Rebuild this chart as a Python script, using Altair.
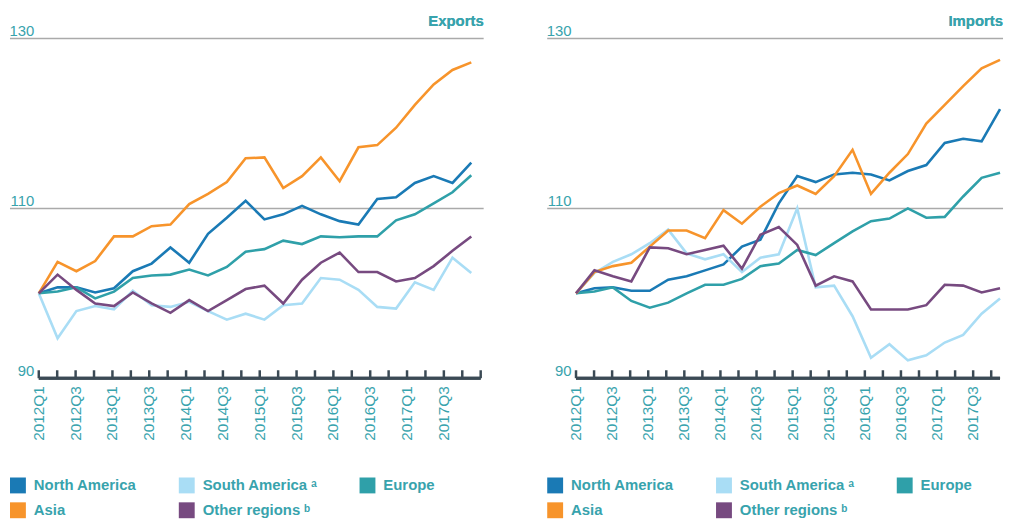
import altair as alt
import pandas as pd

FONT = "Liberation Sans"
TEAL = "#38a3ad"
DARK = "#3b4a55"
GRID = "#aaaaaa"

quarters = ["2012Q1", "2012Q2", "2012Q3", "2012Q4", "2013Q1", "2013Q2", "2013Q3", "2013Q4",
            "2014Q1", "2014Q2", "2014Q3", "2014Q4", "2015Q1", "2015Q2", "2015Q3", "2015Q4",
            "2016Q1", "2016Q2", "2016Q3", "2016Q4", "2017Q1", "2017Q2", "2017Q3", "2017Q4"]

regions = ["North America", "South America \u1d43", "Europe", "Asia", "Other regions \u1d47"]
colors = ["#1a7ab5", "#a9ddf5", "#2fa0a9", "#f7942b", "#774a80"]

# Exports (index, 2012Q1 = 100)
exp_na = [100, 100.7, 100.7, 100.1, 100.6, 102.6, 103.5, 105.4, 103.6, 107.0, 108.9, 110.9,
          108.7, 109.3, 110.3, 109.3, 108.5, 108.1, 111.1, 111.3, 113.0, 113.8, 113.0, 115.4]
exp_sa = [100, 94.7, 97.9, 98.5, 98.1, 100.3, 98.6, 98.4, 99.0, 97.9, 96.9, 97.6,
          96.9, 98.6, 98.8, 101.8, 101.6, 100.4, 98.4, 98.2, 101.3, 100.4, 104.2, 102.4]
exp_eu = [100, 100.2, 100.7, 99.4, 100.2, 101.8, 102.1, 102.2, 102.8, 102.1, 103.1, 104.9,
          105.2, 106.2, 105.8, 106.7, 106.6, 106.7, 106.7, 108.6, 109.3, 110.6, 111.9, 113.9]
exp_as = [100, 103.7, 102.6, 103.8, 106.7, 106.7, 107.9, 108.1, 110.5, 111.7, 113.1, 115.9,
          116.0, 112.4, 113.8, 116.0, 113.2, 117.2, 117.45, 119.5, 122.2, 124.6, 126.3, 127.2]
exp_ot = [100, 102.2, 100.4, 98.8, 98.5, 100.1, 98.8, 97.7, 99.2, 97.9, 99.2, 100.5,
          100.9, 98.8, 101.6, 103.6, 104.8, 102.5, 102.5, 101.4, 101.8, 103.2, 105.0, 106.7]

# Imports (index, 2012Q1 = 100)
imp_na = [100, 100.6, 100.7, 100.3, 100.3, 101.6, 102.0, 102.7, 103.4, 105.5, 106.3, 110.6,
          113.8, 113.1, 114.0, 114.2, 114.0, 113.3, 114.4, 115.1, 117.7, 118.2, 117.9, 121.7]
imp_sa = [100, 102.4, 103.7, 104.6, 105.9, 107.5, 104.7, 104.0, 104.6, 102.5, 104.2, 104.6,
          110.0, 100.7, 100.9, 97.3, 92.4, 94.0, 92.1, 92.7, 94.2, 95.1, 97.6, 99.4]
imp_eu = [100, 100.2, 100.7, 99.1, 98.3, 98.9, 100.0, 101.0, 101.0, 101.7, 103.2, 103.5,
          105.1, 104.5, 105.9, 107.3, 108.5, 108.8, 110.0, 108.9, 109.0, 111.4, 113.6, 114.2]
imp_as = [100, 102.5, 103.2, 103.6, 105.5, 107.4, 107.4, 106.5, 109.8, 108.2, 110.2, 111.8,
          112.7, 111.7, 113.8, 116.9, 111.7, 114.2, 116.4, 120.0, 122.2, 124.4, 126.5, 127.5]
imp_ot = [100, 102.7, 102.0, 101.4, 105.4, 105.3, 104.6, 105.1, 105.6, 102.9, 106.9, 107.8,
          105.7, 100.9, 102.0, 101.4, 98.1, 98.1, 98.1, 98.6, 101.0, 100.9, 100.1, 100.6]

y_ticks = [90, 110, 130]
grid_values = [110, 130]

H = 342
TICK_SPAN = 23.5  # axis extent in quarter units


def panel(title, series, width, xmax):
    rows = []
    for reg, vals in zip(regions, series):
        for i, v in enumerate(vals):
            rows.append({"idx": i, "value": v, "region": reg, "quarter": quarters[i]})
    df = pd.DataFrame(rows)

    xs = alt.Scale(domain=[0, xmax], nice=False, zero=False)
    ys = alt.Scale(domain=[90, 130], nice=False, zero=False)
    yaxis = alt.Axis(values=y_ticks, grid=False, domain=False, ticks=False, tickSize=0,
                     labelAlign="right", labelBaseline="alphabetic", labelOffset=-3,
                     labelPadding=5, labelFontSize=15, labelColor=TEAL, labelFont=FONT,
                     title=None)

    n_ticks = len(quarters) + 1
    tick_pos = [k * TICK_SPAN / len(quarters) for k in range(n_ticks)]
    tick_pos = [p for p in tick_pos if p <= xmax + 1e-9]
    ticks_df = pd.DataFrame({"pos": tick_pos})
    lab_pos = tick_pos[0::2]
    lab_txt = quarters[0::2]
    m = min(len(lab_pos), len(lab_txt))
    lab_df = pd.DataFrame({"pos": lab_pos[:m], "label": lab_txt[:m]})
    grid_df = pd.DataFrame({"v": grid_values})

    grid = alt.Chart(grid_df).mark_rule(color=GRID, strokeWidth=1.5).encode(
        y=alt.Y("v:Q", scale=ys, axis=yaxis),
        x=alt.value(-29), x2=alt.value(width + 3))

    lines = alt.Chart(df).mark_line(strokeWidth=2.6).encode(
        x=alt.X("idx:Q", scale=xs, axis=None),
        y=alt.Y("value:Q", scale=ys, axis=yaxis),
        stroke=alt.Stroke("region:N", sort=regions, scale=alt.Scale(range=colors), legend=None),
        detail="region:N")

    # legend carrier: filled squares with no rows drawn; the legend comes from the scale domain
    legend_layer = alt.Chart(df).transform_filter("datum.idx < 0").mark_square(
        filled=True, opacity=1).encode(
        x=alt.X("idx:Q", scale=xs, axis=None),
        y=alt.Y("value:Q", scale=ys, axis=yaxis),
        fill=alt.Fill("region:N", scale=alt.Scale(domain=regions, range=colors),
                      legend=alt.Legend(title=None, orient="none", legendX=-29, legendY=442,
                                        direction="horizontal", columns=3, symbolType="square",
                                        symbolSize=256, symbolStrokeWidth=0, symbolOpacity=1,
                                        labelFontSize=15, labelFontWeight="bold",
                                        labelColor=TEAL, labelFont=FONT, labelOffset=8,
                                        columnPadding=42, rowPadding=9, padding=0,
                                        labelLimit=300, gridAlign="each")))

    axis_line = alt.Chart(grid_df).mark_rule(color=DARK, strokeWidth=3).encode(
        y=alt.YDatum(90, scale=ys, axis=yaxis), x=alt.value(0), x2=alt.value(width))

    ticks = alt.Chart(ticks_df).mark_rule(color=DARK, strokeWidth=2.5).encode(
        x=alt.X("pos:Q", scale=xs, axis=None), y=alt.value(H - 8), y2=alt.value(H))

    labels = alt.Chart(lab_df).mark_text(angle=270, align="right", baseline="middle",
                                         fontSize=15.5, color=TEAL, font=FONT).encode(
        x=alt.X("pos:Q", scale=xs, axis=None), y=alt.value(H + 8), text="label:N")

    ttl = alt.Chart(grid_df).mark_text(text=title, align="right", baseline="alphabetic",
                                       fontSize=15, fontWeight="bold", color=TEAL,
                                       font=FONT).encode(
        x=alt.value(width + 3), y=alt.value(-13))

    return alt.layer(grid, lines, legend_layer, axis_line, ticks, labels, ttl).properties(
        width=width, height=H)


left = panel("Exports", [exp_na, exp_sa, exp_eu, exp_as, exp_ot], 445, TICK_SPAN)
right = panel("Imports", [imp_na, imp_sa, imp_eu, imp_as, imp_ot], 427, 23.0)

chart = alt.hconcat(left, right, spacing=61).resolve_scale(
    stroke="independent", fill="independent", x="independent", y="independent").resolve_legend(
    fill="independent").properties(
    padding={"left": 0, "top": 4, "right": 0, "bottom": 0}).configure_view(stroke=None)

chart.save("out.html", embed_options={"renderer": "svg", "actions": False})
